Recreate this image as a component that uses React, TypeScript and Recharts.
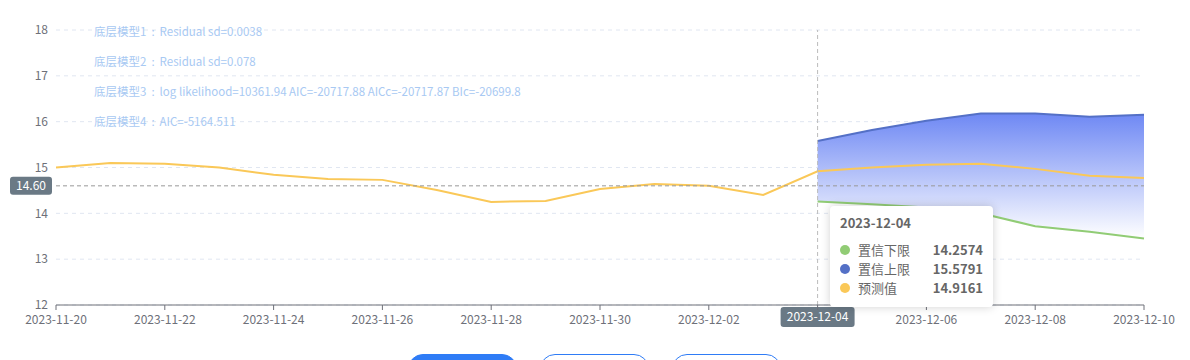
import React from 'react';
import {
  ComposedChart, Area, Line, XAxis, YAxis, CartesianGrid, Tooltip, ReferenceLine,
} from 'recharts';

const dates = [
  '2023-11-20', '2023-11-21', '2023-11-22', '2023-11-23', '2023-11-24', '2023-11-25', '2023-11-26',
  '2023-11-27', '2023-11-28', '2023-11-29', '2023-11-30', '2023-12-01', '2023-12-02', '2023-12-03',
  '2023-12-04', '2023-12-05', '2023-12-06', '2023-12-07', '2023-12-08', '2023-12-09', '2023-12-10',
];

const forecast = [
  15.0, 15.1, 15.08, 15.0, 14.84, 14.75, 14.73,
  14.51, 14.25, 14.27, 14.53, 14.64, 14.6, 14.4,
  14.9161, 15.0, 15.06, 15.08, 14.97, 14.82, 14.77,
];

const lower = [
  null, null, null, null, null, null, null,
  null, null, null, null, null, null, null,
  14.2574, 14.2, 14.13, 14.0, 13.72, 13.6, 13.45,
];

const upper = [
  null, null, null, null, null, null, null,
  null, null, null, null, null, null, null,
  15.5791, 15.82, 16.02, 16.18, 16.18, 16.11, 16.15,
];

const yTicks = [12, 13, 14, 15, 16, 17, 18];
const markValue = 14.6;
const activeDate = '2023-12-04';

const notePrefix = ['底层模型1', '底层模型2', '底层模型3', '底层模型4'];
const noteText = [
  'Residual sd=0.0038',
  'Residual sd=0.078',
  'log likelihood=10361.94 AIC=-20717.88 AICc=-20717.87 BIc=-20699.8',
  'AIC=-5164.511',
];

const buttons = ['', '', ''];

const seriesInfo = [
  { name: '置信下限', color: '#91cc75', values: lower },
  { name: '置信上限', color: '#5470c6', values: upper },
  { name: '预测值', color: '#fac858', values: forecast },
];

const data = dates.map((d, i) => ({
  date: d,
  forecast: forecast[i],
  lower: lower[i],
  upper: upper[i],
  band: lower[i] != null && upper[i] != null ? [lower[i], upper[i]] : null,
}));

const FONT = '"Noto Sans CJK SC", "Noto Sans", sans-serif';
const AXIS = '#6e7079';
const LABEL_BG = '#6a7985';

const XTick = (props: any) => {
  const { x, y, payload } = props;
  if (payload.value === activeDate) return null;
  return (
    <text x={x} y={y + 12} textAnchor="middle" fill={AXIS} fontSize={12} fontFamily={FONT}>
      {payload.value}
    </text>
  );
};

const TipContent = (props: any) => {
  const idx = dates.indexOf(props.label ?? activeDate);
  const i = idx < 0 ? dates.indexOf(activeDate) : idx;
  return (
    <div style={{
      background: '#fff', borderRadius: 4, boxShadow: '0 0 10px rgba(0,0,0,0.18)',
      padding: '8px 10px 10px 10px', width: 143, fontFamily: FONT, color: '#666',
    }}>
      <div style={{ fontSize: 13, fontWeight: 700, lineHeight: '18px', marginBottom: 8 }}>{dates[i]}</div>
      {seriesInfo.map((s) => (
        <div key={s.name} style={{ display: 'flex', alignItems: 'center', fontSize: 13, lineHeight: '19px' }}>
          <span style={{ width: 10, height: 10, borderRadius: 5, background: s.color, marginRight: 8 }} />
          <span style={{ flex: 1 }}>{s.name}</span>
          <span style={{ fontWeight: 700 }}>{s.values[i] != null ? (s.values[i] as number).toFixed(4) : '-'}</span>
        </div>
      ))}
    </div>
  );
};

const YMarkLabel = (props: any) => {
  const { viewBox } = props;
  const y = viewBox.y;
  return (
    <g>
      <rect x={10} y={y - 9} width={42} height={18} rx={3} fill={LABEL_BG} />
      <text x={31} y={y + 4} textAnchor="middle" fill="#fff" fontSize={12} fontFamily={FONT}>
        {markValue.toFixed(2)}
      </text>
    </g>
  );
};

const XMarkLabel = (props: any) => {
  const { viewBox } = props;
  const x = viewBox.x;
  const y = viewBox.y + viewBox.height;
  return (
    <g>
      <rect x={x - 37} y={y + 2} width={74} height={20} rx={3} fill={LABEL_BG} />
      <text x={x} y={y + 16} textAnchor="middle" fill="#fff" fontSize={12} fontFamily={FONT}>
        {activeDate}
      </text>
    </g>
  );
};

export default function App() {
  return (
    <div style={{ position: 'absolute', left: 0, top: 0, width: 1190, height: 360, overflow: 'hidden', background: '#fff' }}>
      <ComposedChart
        width={1190}
        height={340}
        data={data}
        margin={{ top: 30, right: 46, left: 16, bottom: 5 }}
      >
        <defs>
          <linearGradient id="bandFill" x1="0" y1="0" x2="0" y2="1">
            <stop offset="0%" stopColor="#6e88f4" stopOpacity={1} />
            <stop offset="100%" stopColor="#ffffff" stopOpacity={1} />
          </linearGradient>
        </defs>
        <CartesianGrid vertical={false} stroke="#e0e6f1" strokeDasharray="4 4" />
        <XAxis
          dataKey="date"
          interval={1}
          height={30}
          stroke={AXIS}
          tickSize={5}
          tick={<XTick />}
        />
        <YAxis
          domain={[12, 18]}
          ticks={yTicks}
          interval={0}
          width={40}
          axisLine={false}
          tickLine={false}
          tick={{ fill: AXIS, fontSize: 12, fontFamily: FONT }}
        />
        <Area
          dataKey="band"
          stroke="none"
          fill="url(#bandFill)"
          fillOpacity={1}
          isAnimationActive={false}
          activeDot={false}
          type="linear"
        />
        <Line dataKey="lower" stroke="#91cc75" strokeWidth={2} dot={false} activeDot={false} isAnimationActive={false} type="linear" />
        <Line dataKey="upper" stroke="#5470c6" strokeWidth={2} dot={false} activeDot={false} isAnimationActive={false} type="linear" />
        <Line dataKey="forecast" stroke="#fac858" strokeWidth={2} dot={false} activeDot={false} isAnimationActive={false} type="linear" />
        <ReferenceLine y={markValue} stroke="#999" strokeDasharray="4 3" label={<YMarkLabel />} />
        <ReferenceLine x={activeDate} stroke="#bbb" strokeDasharray="4 3" label={<XMarkLabel />} />
        <Tooltip
          active={true}
          defaultIndex={14}
          cursor={false}
          position={{ x: 830, y: 206 }}
          isAnimationActive={false}
          content={<TipContent />}
          wrapperStyle={{ zIndex: 10 }}
        />
      </ComposedChart>
      {notePrefix.map((p, i) => (
        <div
          key={p}
          style={{
            position: 'absolute', left: 94, top: 23 + i * 30, fontSize: 11.5, lineHeight: '17px',
            color: '#a8c9f3', fontFamily: FONT, whiteSpace: 'nowrap',
          }}
        >
          {p}
          <span style={{ margin: '0 5px' }}>:</span>
          {noteText[i]}
        </div>
      ))}
      <div style={{ position: 'absolute', left: 408, top: 354, display: 'flex', gap: 23 }}>
        {buttons.map((b, i) => (
          <div
            key={i}
            style={{
              width: 109, height: 30, borderRadius: 16, boxSizing: 'border-box',
              border: '1px solid #2f7cf6', background: i === 0 ? '#2f7cf6' : '#fff',
            }}
          >
            {b}
          </div>
        ))}
      </div>
    </div>
  );
}
